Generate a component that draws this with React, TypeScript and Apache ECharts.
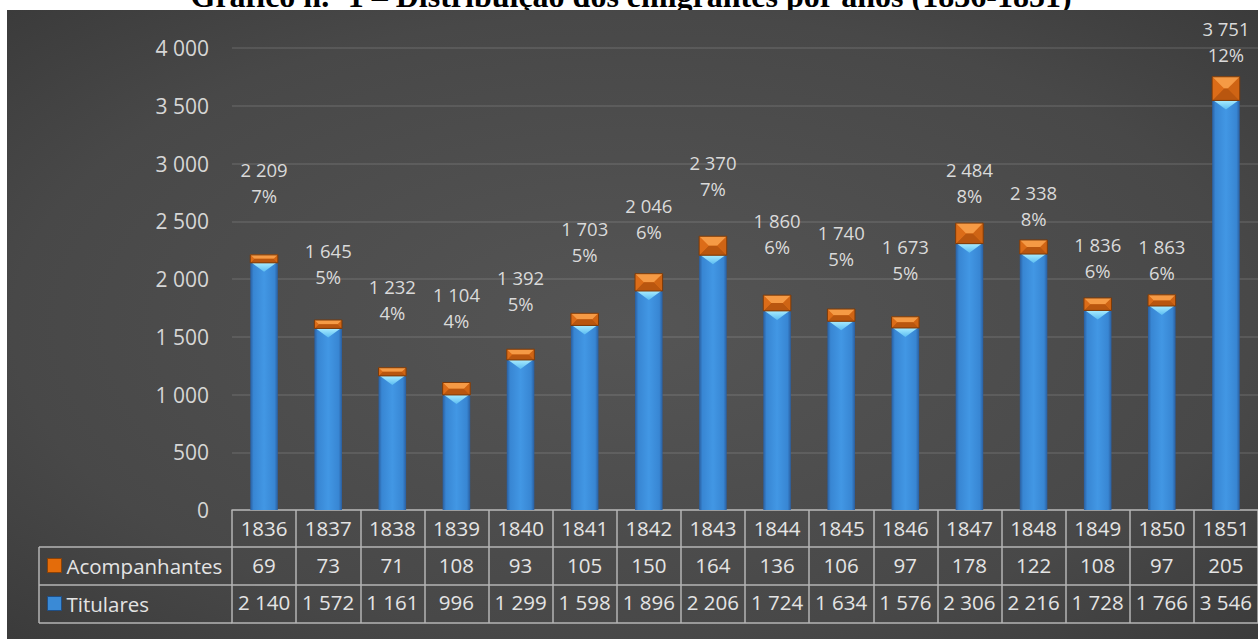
import React, { useEffect, useRef } from 'react';
import * as echarts from 'echarts';

const years = ['1836', '1837', '1838', '1839', '1840', '1841', '1842', '1843', '1844', '1845', '1846', '1847', '1848', '1849', '1850', '1851'];
const titulares = [2140, 1572, 1161, 996, 1299, 1598, 1896, 2206, 1724, 1634, 1576, 2306, 2216, 1728, 1766, 3546];
const acompanhantes = [69, 73, 71, 108, 93, 105, 150, 164, 136, 106, 97, 178, 122, 108, 97, 205];
const percentLabels = ['7%', '5%', '4%', '4%', '5%', '5%', '6%', '7%', '6%', '5%', '5%', '8%', '8%', '6%', '6%', '12%'];
const yMin = 0;
const yMax = 4000;
const yInterval = 500;
const titleText = 'Gráfico n.º 1 – Distribuição dos emigrantes por anos (1836-1851)';
// label placement (style): px from bar top up to the centre of the percentage line
const labelLift = [59, 44, 55, 62, 46, 59, 42, 48, 49, 51, 44, 28, 21, 27, 22, 22];

const fmt = (n: number) => String(n).replace(/\B(?=(\d{3})+(?!\d))/g, ' ');

const FONT = '"Open Sans", "Noto Sans", sans-serif';
const TABLE_LINE = '#b4b4b4';
const TEXT = '#e4e4e4';
const BAR_FRAC = 0.43;

export default function App() {
  const ref = useRef<HTMLDivElement>(null);

  useEffect(() => {
    if (!ref.current) return;
    const chart = echarts.init(ref.current, null, { renderer: 'svg' });

    const blueGrad = () =>
      new echarts.graphic.LinearGradient(0, 0, 1, 0, [
        { offset: 0, color: '#2a5e9f' },
        { offset: 0.12, color: '#3886d3' },
        { offset: 0.5, color: '#4297e4' },
        { offset: 0.88, color: '#3886d3' },
        { offset: 1, color: '#2a5e9f' },
      ]);
    const cyanGrad = () =>
      new echarts.graphic.LinearGradient(0, 0, 0, 1, [
        { offset: 0, color: '#a8ecff' },
        { offset: 1, color: '#5cbdf2' },
      ]);

    const renderTit = (params: any, api: any) => {
      const i = api.value(0);
      const b = api.coord([i, 0]);
      const t = api.coord([i, api.value(1)]);
      const w = api.size([1, 0])[0] * BAR_FRAC;
      const x0 = b[0] - w / 2;
      const h = b[1] - t[1];
      const bev = Math.min(9, h / 2, w / 2);
      return {
        type: 'group',
        children: [
          { type: 'rect', shape: { x: x0, y: t[1], width: w, height: h }, style: { fill: blueGrad() } },
          {
            type: 'polygon',
            shape: { points: [[x0 + 1.5, t[1]], [x0 + w - 1.5, t[1]], [b[0], t[1] + bev]] },
            style: { fill: cyanGrad() },
          },
        ],
      };
    };

    const renderAcc = (params: any, api: any) => {
      const i = api.value(0);
      const base = api.value(1);
      const val = api.value(2);
      const pb = api.coord([i, base]);
      const pt = api.coord([i, base + val]);
      const w = api.size([1, 0])[0] * BAR_FRAC;
      const x0 = pb[0] - w / 2;
      const x1 = x0 + w;
      const y0 = pt[1];
      const y1 = pb[1];
      const h = y1 - y0;
      const bv = Math.min(h / 2, w / 2, 12);
      return {
        type: 'group',
        children: [
          { type: 'rect', shape: { x: x0, y: y0, width: w, height: h }, style: { fill: '#e2741d' } },
          {
            type: 'polygon',
            shape: { points: [[x0, y0], [x1, y0], [x1 - bv, y0 + bv], [x0 + bv, y0 + bv]] },
            style: { fill: '#f59a45' },
          },
          {
            type: 'polygon',
            shape: { points: [[x0, y1], [x1, y1], [x1 - bv, y1 - bv], [x0 + bv, y1 - bv]] },
            style: { fill: '#b9560f' },
          },
          {
            type: 'polygon',
            shape: { points: [[x0, y0], [x0 + bv, y0 + bv], [x0 + bv, y1 - bv], [x0, y1]] },
            style: { fill: '#dc6c18' },
          },
          {
            type: 'polygon',
            shape: { points: [[x1, y0], [x1 - bv, y0 + bv], [x1 - bv, y1 - bv], [x1, y1]] },
            style: { fill: '#cf6414' },
          },
          {
            type: 'rect',
            shape: { x: x0, y: y0, width: w, height: h },
            style: { fill: 'none', stroke: '#7a3a0a', lineWidth: 1 },
          },
          {
            type: 'text',
            x: pt[0],
            y: y0 - labelLift[i] - 13,
            style: {
              text: fmt(base + val) + '\n' + percentLabels[i],
              fill: '#dadada',
              fontSize: 18.5,
              fontFamily: FONT,
              align: 'center',
              verticalAlign: 'middle',
              lineHeight: 26,
            },
          },
        ],
      };
    };

    const mkX = (offset: number, labels: string[] | null, margin: number, ticks: boolean, tickLen: number) => ({
      type: 'category',
      data: years,
      position: 'bottom',
      offset,
      boundaryGap: true,
      axisLine: { show: true, lineStyle: { color: TABLE_LINE, width: 1.5 } },
      axisTick: {
        show: ticks,
        interval: 0,
        length: tickLen,
        inside: false,
        alignWithLabel: false,
        lineStyle: { color: TABLE_LINE, width: 1.5 },
      },
      axisLabel: {
        show: !!labels,
        interval: 0,
        margin,
        color: TEXT,
        fontSize: 20.5,
        fontFamily: FONT,
        lineHeight: 24,
        formatter: (_v: string, idx: number) => (labels ? labels[idx] : ''),
      },
      splitLine: { show: false },
    });

    const legendBase = {
      orient: 'horizontal',
      left: 47,
      padding: 0,
      itemWidth: 14,
      itemHeight: 14,
      selectedMode: false,
      textStyle: { color: TEXT, fontSize: 20.5, fontFamily: FONT, lineHeight: 14 },
    };

    chart.setOption({
      animation: false,
      backgroundColor: '#ffffff',
      grid: { left: 232, right: -9, top: 48, bottom: 129, containLabel: false },
      legend: [
        {
          ...legendBase,
          top: 555,
          data: [{ name: 'Acompanhantes', icon: 'rect', itemStyle: { color: '#e46c0a', borderColor: '#8a4208', borderWidth: 1 } }],
        },
        {
          ...legendBase,
          top: 593,
          data: [{ name: 'Titulares', icon: 'rect', itemStyle: { color: '#3a8ad6', borderColor: '#1f4f86', borderWidth: 1 } }],
        },
      ],
      xAxis: [
        mkX(0, years, 6, true, 37),
        mkX(37, acompanhantes.map(fmt), 6, true, 38),
        mkX(75, titulares.map(fmt), 5, true, 38),
        mkX(113, null, 6, false, 0),
      ],
      yAxis: {
        type: 'value',
        min: yMin,
        max: yMax,
        interval: yInterval,
        axisLine: { show: false },
        axisTick: { show: false },
        axisLabel: { color: '#d6d6d6', fontSize: 21, fontFamily: FONT, margin: 23, formatter: (v: number) => fmt(v) },
        splitLine: { show: true, lineStyle: { color: 'rgba(255,255,255,0.13)', width: 1.5 } },
      },
      graphic: [
        {
          type: 'text',
          z: -3,
          x: 631,
          y: -4,
          style: {
            text: titleText,
            fill: '#000000',
            fontSize: 32,
            fontWeight: 'bold',
            fontFamily: '"Liberation Serif", "Times New Roman", serif',
            align: 'center',
            verticalAlign: 'middle',
          },
        },
        {
          type: 'rect',
          z: -2,
          shape: { x: 7, y: 10, width: 1251, height: 629 },
          style: {
            fill: new echarts.graphic.RadialGradient(0.5, 0.5, 1.1, [
              { offset: 0, color: '#555555' },
              { offset: 0.45, color: '#484848' },
              { offset: 1, color: '#232323' },
            ]),
          },
        },
        { type: 'line', z: 5, shape: { x1: 39, y1: 547, x2: 232, y2: 547 }, style: { stroke: TABLE_LINE, lineWidth: 1.5 } },
        { type: 'line', z: 5, shape: { x1: 39, y1: 585, x2: 232, y2: 585 }, style: { stroke: TABLE_LINE, lineWidth: 1.5 } },
        { type: 'line', z: 5, shape: { x1: 39, y1: 623, x2: 232, y2: 623 }, style: { stroke: TABLE_LINE, lineWidth: 1.5 } },
        { type: 'line', z: 5, shape: { x1: 39, y1: 547, x2: 39, y2: 623 }, style: { stroke: TABLE_LINE, lineWidth: 1.5 } },
      ],
      series: [
        {
          name: 'Titulares',
          type: 'custom',
          clip: false,
          itemStyle: { color: '#3a8ad6' },
          encode: { x: 0, y: 1 },
          data: titulares.map((v, i) => [i, v]),
          renderItem: renderTit,
        },
        {
          name: 'Acompanhantes',
          type: 'custom',
          clip: false,
          itemStyle: { color: '#e46c0a' },
          encode: { x: 0, y: 2 },
          data: acompanhantes.map((v, i) => [i, titulares[i], v]),
          renderItem: renderAcc,
        },
      ],
    });

    return () => chart.dispose();
  }, []);

  return <div ref={ref} style={{ position: 'fixed', left: 0, top: 0, width: 1258, height: 639 }} />;
}
